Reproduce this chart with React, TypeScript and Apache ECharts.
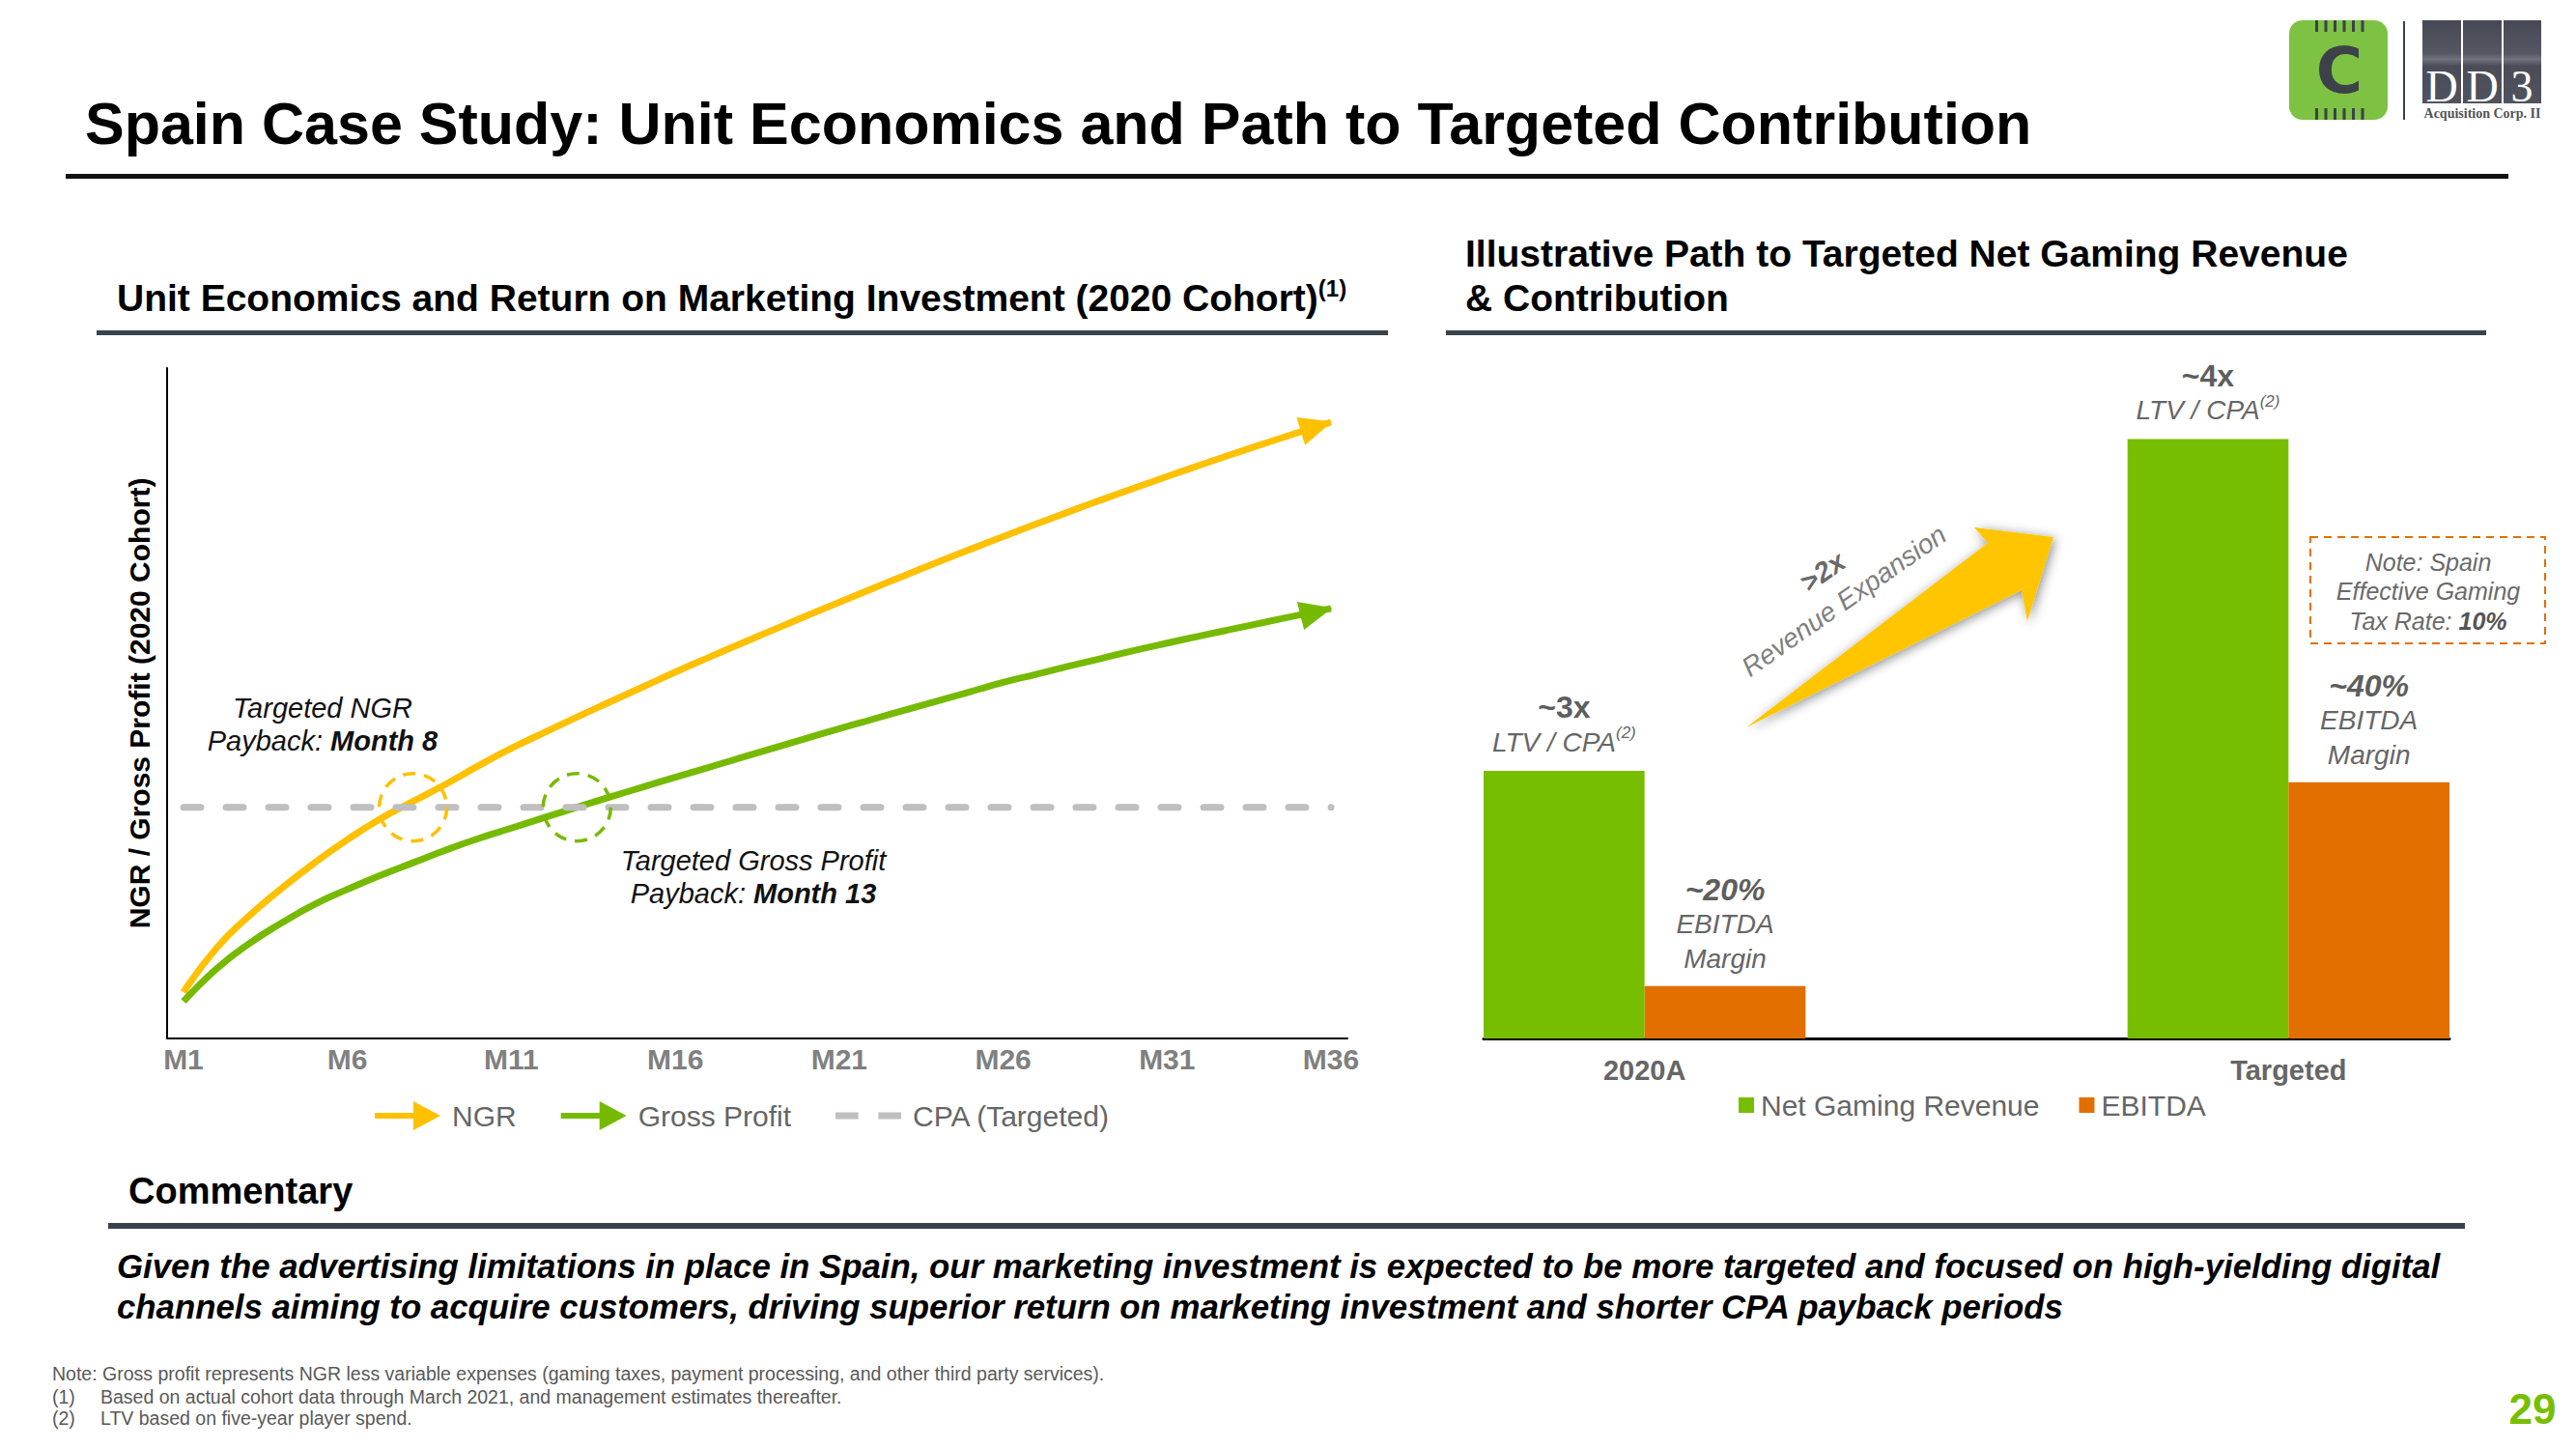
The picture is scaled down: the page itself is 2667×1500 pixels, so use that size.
import React, { useEffect, useRef } from 'react';
import * as echarts from 'echarts';

// ---------- data ----------
const MONTHS = ['M1','M2','M3','M4','M5','M6','M7','M8','M9','M10','M11','M12','M13','M14','M15','M16','M17','M18','M19','M20','M21','M22','M23','M24','M25','M26','M27','M28','M29','M30','M31','M32','M33','M34','M35','M36'];
const NGR_VALUES = [20, 39, 53, 65, 76, 86, 95, 102.5, 110, 118, 125.5, 132.3, 139, 145.5, 152, 158.5, 164.7, 170.8, 176.8, 182.8, 188.7, 194.5, 200.3, 206, 211.6, 217.1, 222.5, 227.8, 233, 238.1, 243.1, 248, 252.8, 257.5, 262.1, 266.6];
const GROSS_PROFIT_VALUES = [16, 30, 41, 50, 58, 64.5, 70.5, 76, 81.5, 86.5, 91, 95.5, 100, 104.4, 108.7, 113, 117.2, 121.4, 125.6, 129.8, 134, 138, 142, 146, 150, 154, 157.5, 161, 164.4, 167.8, 171, 174.1, 177.1, 180.1, 183.1, 186];
const CPA_TARGET = 100;
const NGR_PAYBACK_INDEX = 6.5;
const GP_PAYBACK_INDEX = 11.9;

const BAR_CATEGORIES = ['2020A', '', 'Targeted'];
const NGR_BAR_VALUES: (number | string)[] = [100, '-', 224];
const EBITDA_BAR_VALUES: (number | string)[] = [19.6, '-', 95.8];
const LTV_CPA_LABELS = ['~3x', '', '~4x'];
const EBITDA_MARGIN_LABELS = ['~20%', '', '~40%'];

// ---------- styles ----------
const FONT = '"Liberation Sans", Arial, Helvetica, sans-serif';
const SERIF = '"Liberation Serif", "DejaVu Serif", serif';
const YELLOW = '#FFC000';
const GREEN_LINE = '#76BA00';
const GREEN_BAR = '#78BE00';
const ORANGE = '#E36F00';
const GRAY_DASH = '#BFBFBF';
const SLATE = '#3A434B';
const LABEL_GRAY = '#666666';

const ARROW_ICON = 'path://M0,12L44,12L44,18L0,18Z M40,0L68,15L40,30Z';
const DASH_ICON = 'path://M0,0L24,0L24,7L0,7Z M45,0L69,0L69,7L45,7Z';

function buildOption(): any {
  const last = MONTHS.length - 1;
  const ngrData = NGR_VALUES.map((v, i) =>
    i === last ? { value: v, symbol: 'triangle', symbolSize: [30, 34], symbolRotate: -73, symbolOffset: [-15, 4.5] } : v
  );
  const gpData = GROSS_PROFIT_VALUES.map((v, i) =>
    i === last ? { value: v, symbol: 'triangle', symbolSize: [30, 34], symbolRotate: -76, symbolOffset: [-15, 3.5] } : v
  );

  const pins: any[] = [];
  for (let i = 0; i < 6; i++) {
    pins.push({ type: 'rect', shape: { x: 2397 + i * 9.5, y: 21, width: 3, height: 12 }, style: { fill: '#3D4249' } });
    pins.push({ type: 'rect', shape: { x: 2397 + i * 9.5, y: 112, width: 3, height: 12 }, style: { fill: '#3D4249' } });
  }

  const richAnn = {
    n: { fontSize: 29, fontStyle: 'italic', fontFamily: FONT, fill: '#111', lineHeight: 34 },
    b: { fontSize: 29, fontStyle: 'italic', fontWeight: 'bold', fontFamily: FONT, fill: '#111', lineHeight: 34 },
  };

  const graphic: any[] = [
    // title
    { type: 'text', x: 88, y: 128, style: { text: 'Spain Case Study: Unit Economics and Path to Targeted Contribution', fontSize: 61, fontWeight: 'bold', fontFamily: FONT, fill: '#000', verticalAlign: 'middle' } },
    { type: 'rect', shape: { x: 68, y: 180, width: 2529, height: 5 }, style: { fill: '#111' } },
    // left header
    { type: 'text', x: 121, y: 308, style: { text: '{m|Unit Economics and Return on Marketing Investment (2020 Cohort)}{s|(1)}', verticalAlign: 'middle', rich: { m: { fontSize: 39, fontWeight: 'bold', fontFamily: FONT, fill: '#000', lineHeight: 44 }, s: { fontSize: 24, fontWeight: 'bold', fontFamily: FONT, fill: '#000', lineHeight: 24, verticalAlign: 'top' } } } },
    { type: 'rect', shape: { x: 100, y: 342, width: 1337, height: 5 }, style: { fill: SLATE } },
    // right header
    { type: 'text', x: 1517, y: 285, style: { text: 'Illustrative Path to Targeted Net Gaming Revenue\n& Contribution', fontSize: 39, fontWeight: 'bold', fontFamily: FONT, fill: '#000', lineHeight: 46, verticalAlign: 'middle' } },
    { type: 'rect', shape: { x: 1497, y: 342, width: 1077, height: 5 }, style: { fill: SLATE } },
    // annotations
    { type: 'text', x: 334, y: 750, style: { text: '{n|Targeted NGR}\n{n|Payback: }{b|Month 8}', align: 'center', verticalAlign: 'middle', rich: richAnn } },
    { type: 'text', x: 780, y: 908, style: { text: '{n|Targeted Gross Profit}\n{n|Payback: }{b|Month 13}', align: 'center', verticalAlign: 'middle', rich: richAnn } },
    // big arrow
    { type: 'polygon', shape: { points: [[1808, 753], [2058, 562], [2044, 546], [2126, 556], [2099, 643], [2093, 611]] }, style: { fill: '#FFC600', shadowBlur: 12, shadowColor: 'rgba(0,0,0,0.45)', shadowOffsetX: 2, shadowOffsetY: 2 } },
    { type: 'text', x: 1887, y: 592, rotation: 0.61, style: { text: '>2x', fontSize: 29, fontWeight: 'bold', fontStyle: 'italic', fontFamily: FONT, fill: '#6A6A6A', align: 'center', verticalAlign: 'middle' } },
    { type: 'text', x: 1909, y: 622, rotation: 0.61, style: { text: 'Revenue Expansion', fontSize: 28, fontStyle: 'italic', fontFamily: FONT, fill: '#7F7F7F', align: 'center', verticalAlign: 'middle' } },
    // note box
    { type: 'rect', shape: { x: 2392, y: 556, width: 243, height: 110 }, style: { fill: 'none', stroke: ORANGE, lineWidth: 2, lineDash: [8, 6] } },
    { type: 'text', x: 2514, y: 612, style: { text: '{i|Note: Spain}\n{i|Effective Gaming}\n{i|Tax Rate: }{b|10%}', align: 'center', verticalAlign: 'middle', rich: { i: { fontSize: 25, fontStyle: 'italic', fontFamily: FONT, fill: '#6A6A6A', lineHeight: 30.5 }, b: { fontSize: 25, fontStyle: 'italic', fontWeight: 'bold', fontFamily: FONT, fill: '#555', lineHeight: 30.5 } } } },
    // commentary
    { type: 'text', x: 133, y: 1233, style: { text: 'Commentary', fontSize: 38, fontWeight: 'bold', fontFamily: FONT, fill: '#000', verticalAlign: 'middle' } },
    { type: 'rect', shape: { x: 112, y: 1266, width: 2440, height: 6 }, style: { fill: SLATE } },
    { type: 'text', x: 121, y: 1331, style: { text: 'Given the advertising limitations in place in Spain, our marketing investment is expected to be more targeted and focused on high-yielding digital\nchannels aiming to acquire customers, driving superior return on marketing investment and shorter CPA payback periods', fontSize: 34.8, fontWeight: 'bold', fontStyle: 'italic', fontFamily: FONT, fill: '#000', lineHeight: 42, verticalAlign: 'middle' } },
    // footnotes
    { type: 'text', x: 54, y: 1422, style: { text: 'Note: Gross profit represents NGR less variable expenses (gaming taxes, payment processing, and other third party services).', fontSize: 19.5, fontFamily: FONT, fill: '#595959', verticalAlign: 'middle' } },
    { type: 'text', x: 54, y: 1446, style: { text: '(1)', fontSize: 19.5, fontFamily: FONT, fill: '#595959', verticalAlign: 'middle' } },
    { type: 'text', x: 104, y: 1446, style: { text: 'Based on actual cohort data through March 2021, and management estimates thereafter.', fontSize: 19.5, fontFamily: FONT, fill: '#595959', verticalAlign: 'middle' } },
    { type: 'text', x: 54, y: 1468, style: { text: '(2)', fontSize: 19.5, fontFamily: FONT, fill: '#595959', verticalAlign: 'middle' } },
    { type: 'text', x: 104, y: 1468, style: { text: 'LTV based on five-year player spend.', fontSize: 19.5, fontFamily: FONT, fill: '#595959', verticalAlign: 'middle' } },
    // page number
    { type: 'text', x: 2622, y: 1458, style: { text: '29', fontSize: 44, fontWeight: 'bold', fontFamily: FONT, fill: GREEN_BAR, align: 'center', verticalAlign: 'middle' } },
    // logo
    {
      type: 'group',
      children: [
        { type: 'rect', shape: { x: 2370, y: 21, width: 102, height: 103, r: 14 }, style: { fill: '#7DC242' } },
        ...pins,
        { type: 'text', x: 2422, y: 73, style: { text: 'C', fontSize: 66, fontWeight: 'bold', fontFamily: '"DejaVu Sans", sans-serif', fill: '#3D4249', align: 'center', verticalAlign: 'middle' } },
        { type: 'rect', shape: { x: 2488, y: 22, width: 2, height: 102 }, style: { fill: '#3D4249' } },
        { type: 'rect', shape: { x: 2508, y: 21, width: 123, height: 86 }, style: { fill: new echarts.graphic.LinearGradient(0, 0, 0, 1, [
          { offset: 0, color: '#464954' }, { offset: 0.4, color: '#555863' }, { offset: 0.47, color: '#70737D' }, { offset: 0.55, color: '#4A4D58' }, { offset: 1, color: '#50535E' }
        ]) } },
        { type: 'rect', shape: { x: 2548, y: 21, width: 2, height: 86 }, style: { fill: '#fff' } },
        { type: 'rect', shape: { x: 2590, y: 21, width: 2, height: 86 }, style: { fill: '#fff' } },
        { type: 'text', x: 2528, y: 89, style: { text: 'D', fontSize: 46, fontFamily: SERIF, fill: '#fff', align: 'center', verticalAlign: 'middle' } },
        { type: 'text', x: 2570, y: 89, style: { text: 'D', fontSize: 46, fontFamily: SERIF, fill: '#fff', align: 'center', verticalAlign: 'middle' } },
        { type: 'text', x: 2611, y: 89, style: { text: '3', fontSize: 46, fontFamily: SERIF, fill: '#fff', align: 'center', verticalAlign: 'middle' } },
        { type: 'text', x: 2570, y: 117, style: { text: 'Acquisition Corp. II', fontSize: 14, fontWeight: 'bold', fontFamily: SERIF, fill: '#50535C', align: 'center', verticalAlign: 'middle' } },
      ],
    },
  ];

  return {
    animation: false,
    backgroundColor: '#fff',
    graphic,
    legend: [
      {
        data: [
          { name: 'NGR', icon: ARROW_ICON },
          { name: 'Gross Profit', icon: ARROW_ICON },
          { name: 'CPA (Targeted)', icon: DASH_ICON },
        ],
        left: 388, top: 1140, padding: 0, itemWidth: 68, itemHeight: 30, itemGap: 46,
        itemStyle: { borderWidth: 0 },
        textStyle: { fontSize: 30, color: LABEL_GRAY, fontFamily: FONT, padding: [0, 0, 0, 7] },
        selectedMode: false,
      },
      {
        data: ['Net Gaming Revenue', 'EBITDA'],
        left: 1800, top: 1129, padding: 0, icon: 'rect', itemWidth: 16, itemHeight: 16, itemGap: 41,
        itemStyle: { borderWidth: 0 },
        textStyle: { fontSize: 30, color: LABEL_GRAY, fontFamily: FONT, padding: [0, 0, 0, 2] },
        selectedMode: false,
      },
    ],
    grid: [
      { left: 173, top: 381, width: 1222, height: 694 },
      { left: 1536, top: 382.5, width: 1000, height: 692.5 },
    ],
    xAxis: [
      {
        type: 'category', gridIndex: 0, data: MONTHS, boundaryGap: true,
        axisLine: { lineStyle: { color: '#000', width: 2 } },
        axisTick: { show: false },
        axisLabel: { interval: 4, color: '#808080', fontWeight: 'bold', fontSize: 30, fontFamily: FONT, margin: 6 },
        splitLine: { show: false },
      },
      {
        type: 'category', gridIndex: 1, data: BAR_CATEGORIES,
        axisLine: { lineStyle: { color: '#000', width: 3 } },
        axisTick: { show: false },
        axisLabel: { color: LABEL_GRAY, fontWeight: 'bold', fontSize: 29, fontFamily: FONT, margin: 18, interval: 0 },
      },
    ],
    yAxis: [
      {
        type: 'value', gridIndex: 0, min: 0, max: 290,
        axisLine: { show: true, lineStyle: { color: '#000', width: 2 } },
        axisTick: { show: false }, axisLabel: { show: false }, splitLine: { show: false },
        name: 'NGR / Gross Profit (2020 Cohort)', nameLocation: 'middle', nameGap: 14,
        nameTextStyle: { fontSize: 30, fontWeight: 'bold', color: '#000', fontFamily: FONT },
      },
      { type: 'value', gridIndex: 1, min: 0, max: 250, show: false },
    ],
    series: [
      {
        name: 'NGR', type: 'line', xAxisIndex: 0, yAxisIndex: 0, data: ngrData,
        smooth: 0.5, symbol: 'none', showAllSymbol: true, color: YELLOW,
        itemStyle: { color: YELLOW }, lineStyle: { color: YELLOW, width: 7 },
        markPoint: {
          silent: true, symbol: 'circle', symbolSize: 70, label: { show: false },
          itemStyle: { color: 'rgba(0,0,0,0)', borderColor: YELLOW, borderWidth: 3.5, borderType: [13, 9] },
          data: [{ coord: [NGR_PAYBACK_INDEX, CPA_TARGET] }],
        },
      },
      {
        name: 'Gross Profit', type: 'line', xAxisIndex: 0, yAxisIndex: 0, data: gpData,
        smooth: 0.5, symbol: 'none', showAllSymbol: true, color: GREEN_LINE,
        itemStyle: { color: GREEN_LINE }, lineStyle: { color: GREEN_LINE, width: 7 },
        markPoint: {
          silent: true, symbol: 'circle', symbolSize: 70, label: { show: false },
          itemStyle: { color: 'rgba(0,0,0,0)', borderColor: GREEN_LINE, borderWidth: 3.5, borderType: [13, 9] },
          data: [{ coord: [GP_PAYBACK_INDEX, CPA_TARGET] }],
        },
      },
      {
        name: 'CPA (Targeted)', type: 'line', xAxisIndex: 0, yAxisIndex: 0,
        data: [[MONTHS[0], CPA_TARGET], [MONTHS[last], CPA_TARGET]],
        symbol: 'none', color: GRAY_DASH, itemStyle: { color: GRAY_DASH }, z: 3,
        lineStyle: { color: GRAY_DASH, width: 7, type: [18, 26], cap: 'round' },
      },
      {
        name: 'Net Gaming Revenue', type: 'bar', xAxisIndex: 1, yAxisIndex: 1, data: NGR_BAR_VALUES,
        barGap: '0%', barCategoryGap: '0%', itemStyle: { color: GREEN_BAR }, color: GREEN_BAR,
        label: {
          show: true, position: 'top', distance: 12,
          formatter: (p: any) => `{big|${LTV_CPA_LABELS[p.dataIndex]}}\n{it|LTV / CPA}{sup|(2)}`,
          rich: {
            big: { fontSize: 32, fontWeight: 'bold', color: '#5E5E5E', fontFamily: FONT, lineHeight: 36 },
            it: { fontSize: 28, fontStyle: 'italic', color: '#666', fontFamily: FONT, lineHeight: 36 },
            sup: { fontSize: 17, fontStyle: 'italic', color: '#666', fontFamily: FONT, lineHeight: 22, verticalAlign: 'top' },
          },
        },
      },
      {
        name: 'EBITDA', type: 'bar', xAxisIndex: 1, yAxisIndex: 1, data: EBITDA_BAR_VALUES,
        barGap: '0%', barCategoryGap: '0%', itemStyle: { color: ORANGE }, color: ORANGE,
        label: {
          show: true, position: 'top', distance: 10,
          formatter: (p: any) => `{big|${EBITDA_MARGIN_LABELS[p.dataIndex]}}\n{it|EBITDA}\n{it|Margin}`,
          rich: {
            big: { fontSize: 32, fontWeight: 'bold', fontStyle: 'italic', color: '#5E5E5E', fontFamily: FONT, lineHeight: 36 },
            it: { fontSize: 28, fontStyle: 'italic', color: '#666', fontFamily: FONT, lineHeight: 36 },
          },
        },
      },
    ],
  };
}

export default function App() {
  const ref = useRef<HTMLDivElement>(null);
  useEffect(() => {
    document.body.style.margin = '0';
    const chart = echarts.init(ref.current as HTMLDivElement, null, { renderer: 'svg', width: 2667, height: 1500 });
    chart.setOption(buildOption());
    return () => chart.dispose();
  }, []);
  return <div ref={ref} style={{ width: 2667, height: 1500, background: '#fff' }} />;
}
